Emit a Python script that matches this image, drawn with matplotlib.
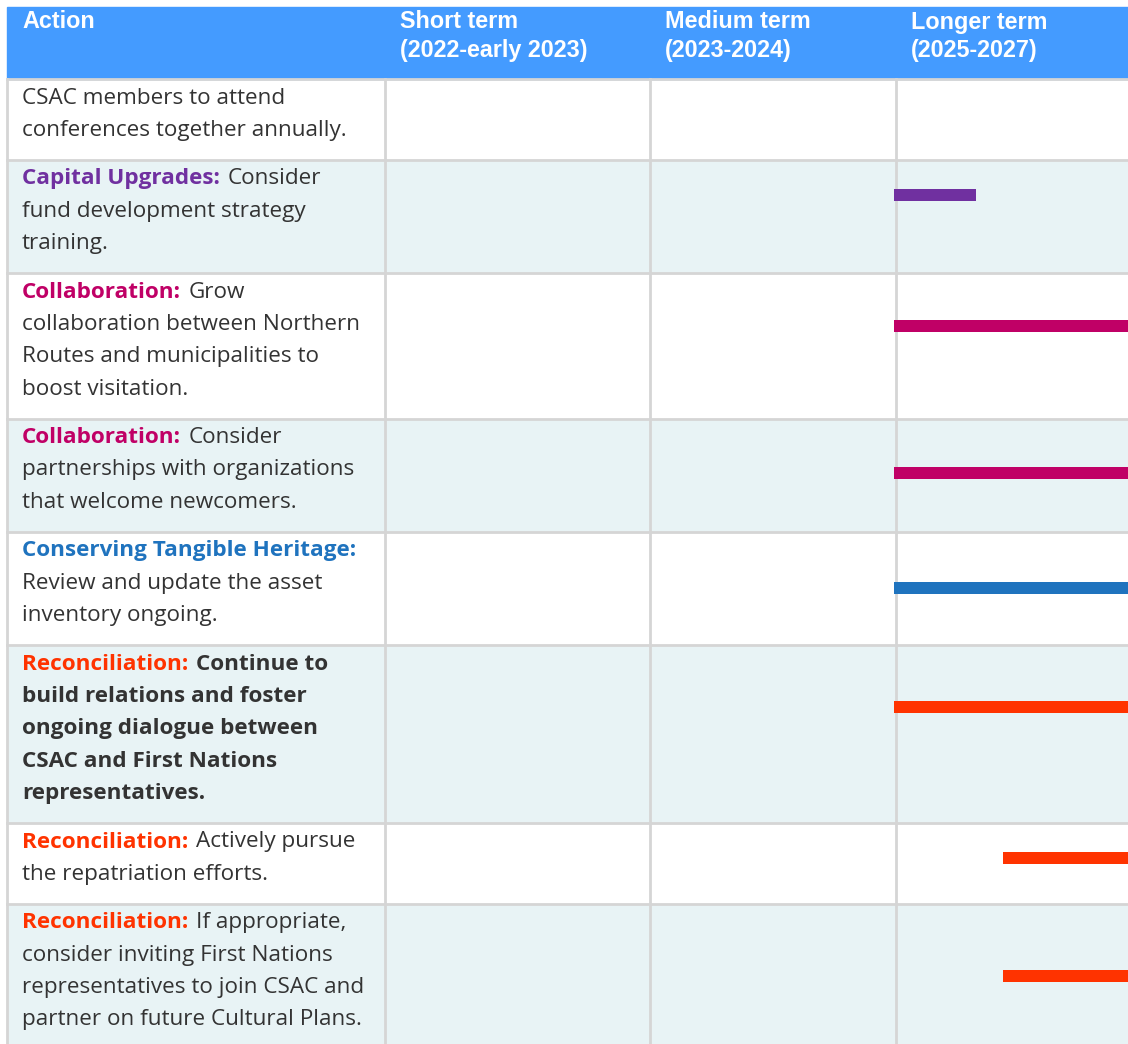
import matplotlib.pyplot as plt
from matplotlib.patches import Rectangle

# ── Data ──────────────────────────────────────────────────────────────────────
headers = [["Action"], ["Short term", "(2022-early 2023)"],
           ["Medium term", "(2023-2024)"], ["Longer term", "(2025-2027)"]]

themes = ["", "Capital Upgrades:", "Collaboration:", "Collaboration:",
          "Conserving Tangible Heritage:", "Reconciliation:", "Reconciliation:",
          "Reconciliation:"]

actions = [
    ["CSAC members to attend", "conferences together annually."],
    ["Consider", "fund development strategy", "training."],
    ["Grow", "collaboration between Northern", "Routes and municipalities to",
     "boost visitation."],
    ["Consider", "partnerships with organizations", "that welcome newcomers."],
    ["", "Review and update the asset", "inventory ongoing."],
    ["Continue to", "build relations and foster", "ongoing dialogue between",
     "CSAC and First Nations", "representatives."],
    ["Actively pursue", "the repatriation efforts."],
    ["If appropriate,", "consider inviting First Nations",
     "representatives to join CSAC and", "partner on future Cultural Plans."],
]
bold_action = [False, False, False, False, False, True, False, False]

# timeline bars (years, within the longer-term column 2025-2028)
bar_start = [None, 2025.0, 2025.0, 2025.0, 2025.0, 2025.0, 2026.33, 2026.33]
bar_end   = [None, 2026.0, 2028.0, 2028.0, 2028.0, 2028.0, 2028.0, 2028.0]

theme_colors = {
    "Capital Upgrades:": "#7030A0",
    "Collaboration:": "#C00066",
    "Conserving Tangible Heritage:": "#1F73BE",
    "Reconciliation:": "#FF3300",
}

# ── Layout (pixels) ───────────────────────────────────────────────────────────
W, H = 1128, 1044
LEFT, TOP, HEAD_BOT = 7, 7, 79
COL_X = [7, 385, 650, 896]
LINE_H = 32.4
PAD = 16
BAR_OFFSET = [0, -21, -20, -2, 0, -27, -5, -1]
TEXT_COLOR = "#333333"
GRID = "#D5D5D5"
ROW_BG = ["white", "#E8F3F5"]
FONT = "Open Sans"
FS = 16.2

fig = plt.figure(figsize=(W / 100, H / 100), dpi=100)
ax = fig.add_axes([0, 0, 1, 1])
ax.set_xlim(0, W)
ax.set_ylim(H, 0)
ax.axis("off")

# header
ax.add_patch(Rectangle((LEFT, TOP), W - LEFT, HEAD_BOT - TOP, color="#449BFF", zorder=1))
for i, hl in enumerate(headers):
    for k, line in enumerate(hl):
        ax.text(COL_X[i] + 15, 22 + k * 29, line, color="white", fontsize=16.8,
                fontweight="bold", family="Liberation Sans", va="center",
                ha="left", zorder=3)

# rows
renderer = fig.canvas.get_renderer()
tops = []
y = HEAD_BOT
for r, lines in enumerate(actions):
    h = len(lines) * LINE_H + PAD
    tops.append(y)
    ax.add_patch(Rectangle((LEFT, y), W - LEFT, h, color=ROW_BG[r % 2], zorder=0))
    ax.plot([LEFT, W], [y, y], color=GRID, lw=2, zorder=2)
    weight = "bold" if bold_action[r] else "normal"
    for k, line in enumerate(lines):
        ly = y + 19 + k * LINE_H
        x0 = 22
        if k == 0 and themes[r]:
            t = ax.text(x0, ly, themes[r], color=theme_colors[themes[r]],
                        fontsize=FS, fontweight="bold", family=FONT,
                        va="center", ha="left", zorder=3)
            bb = t.get_window_extent(renderer)
            x0 = bb.x1 + 8
        ax.text(x0, ly, line, color=TEXT_COLOR, fontsize=FS, fontweight=weight,
                family=FONT, va="center", ha="left", zorder=3)
    y += h
tops.append(y)

# vertical grid lines
for cx in COL_X:
    ax.plot([cx, cx], [HEAD_BOT, H], color=GRID, lw=2, zorder=2)

# timeline bars on a year axis over the longer-term column
gx = fig.add_axes([COL_X[3] / W, 0, 246 / W, 1])
gx.set_xlim(2025, 2028)
gx.set_ylim(H, 0)
gx.axis("off")
gx.patch.set_alpha(0)
for r in range(len(actions)):
    if bar_start[r] is None:
        continue
    theme = themes[r]
    yc = (tops[r] + tops[r + 1]) / 2 + BAR_OFFSET[r]
    gx.barh(yc, bar_end[r] - bar_start[r], left=bar_start[r] - 0.03, height=12,
            color=theme_colors[theme], clip_on=False)

fig.savefig("out.png", dpi=100)
